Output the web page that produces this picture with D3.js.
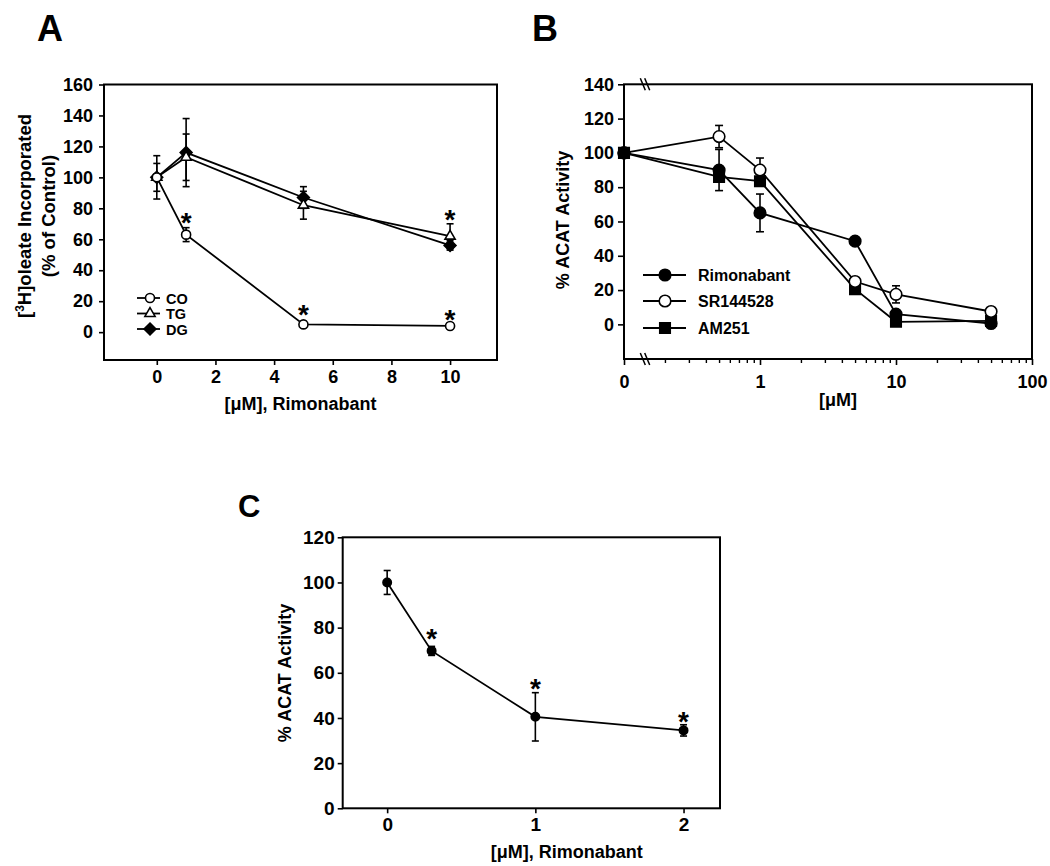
<!DOCTYPE html>
<html><head><meta charset="utf-8">
<script src="https://cdn.jsdelivr.net/npm/d3@7"></script>
<style>
html,body{margin:0;padding:0;background:#fff;}
svg text{font-family:"Liberation Sans",Arial,sans-serif;font-weight:bold;fill:#000;}
</style></head>
<body>
<svg id="chart" width="1050" height="866"></svg>
<script>
// ---------- Panel A data ----------
const aDose = [0, 1, 5, 10];
const aCO = [100, 63, 5, 4];
const aCOErr = [0, 4.5, 2, 0];
const aTG = [100, 113, 82, 62];
const aTGErr = [9, 15, 9, 8];
const aDG = [100, 116, 87, 56];
const aDGErr = [14, 22, 7, 3];
const aYTicks = [0, 20, 40, 60, 80, 100, 120, 140, 160];
const aXTicks = [0, 2, 4, 6, 8, 10];
const aStars = [[1, 75], [5, 16], [10, 77], [10, 12.5]];
const aLegend = ["CO", "TG", "DG"];

// ---------- Panel B data ----------
const bDose = [0, 0.5, 1, 5, 10, 50];
const bRim = [100, 90, 65, 48.5, 6, 0.5];
const bRimErr = [0, 12, 11, 0, 0, 0];
const bSR = [100, 109.5, 90, 25, 17.5, 7.5];
const bSRErr = [0, 6.5, 7, 0, 5, 0];
const bAM = [100, 86, 83.5, 20.5, 1.5, 2];
const bAMErr = [0, 0, 0, 0, 0, 0];
const bYTicks = [0, 20, 40, 60, 80, 100, 120, 140];
const bXMajor = [0.1, 1, 10, 100];
const bXMajorLabels = ["0", "1", "10", "100"];
const bXMinor = [0.2,0.3,0.4,0.5,0.6,0.7,0.8,0.9,2,3,4,5,6,7,8,9,20,30,40,50,60,70,80,90];
const bLegend = ["Rimonabant", "SR144528", "AM251"];

// ---------- Panel C data ----------
const cDose = [0, 0.3, 1, 2];
const cAct = [100, 69.7, 40.5, 34.5];
const cErr = [5.3, 2, 10.7, 2.5];
const cYTicks = [0, 20, 40, 60, 80, 100, 120];
const cXTicks = [0, 1, 2];
const cStars = [[0.3, 78], [1, 56], [2, 41.3]];

const svg = d3.select("#chart");
const LW = 1.8;
const diamond = { draw(ctx, size) { const r = Math.sqrt(size / 2); ctx.moveTo(0, -r); ctx.lineTo(r, 0); ctx.lineTo(0, r); ctx.lineTo(-r, 0); ctx.closePath(); } };

function frame(g, x0, y0, x1, y1) {
  g.append("rect").attr("x", x0).attr("y", y0).attr("width", x1 - x0).attr("height", y1 - y0)
    .attr("fill", "none").attr("stroke", "#000").attr("stroke-width", 2);
}
function styleAxis(sel, fs) {
  sel.select(".domain").remove();
  sel.selectAll("line").attr("stroke", "#000").attr("stroke-width", 1.6);
  sel.selectAll("text").attr("font-size", fs).attr("fill", "#000")
    .style("font-family", '"Liberation Sans",Arial,sans-serif').style("font-weight", "bold");
}
function errBars(g, xs, ys, errs, x, y, cap) {
  xs.forEach((d, i) => {
    if (!errs[i]) return;
    const cx = x(d), y1 = y(ys[i] + errs[i]), y2 = y(ys[i] - errs[i]);
    g.append("line").attr("x1", cx).attr("x2", cx).attr("y1", y1).attr("y2", y2)
      .attr("stroke", "#000").attr("stroke-width", 1.6);
    [y1, y2].forEach(yy => g.append("line").attr("x1", cx - cap).attr("x2", cx + cap)
      .attr("y1", yy).attr("y2", yy).attr("stroke", "#000").attr("stroke-width", 1.6));
  });
}
function seriesLine(g, xs, ys, x, y) {
  g.append("path").datum(xs.map((d, i) => [x(d), y(ys[i])]))
    .attr("d", d3.line()).attr("fill", "none").attr("stroke", "#000").attr("stroke-width", LW);
}
function markers(g, xs, ys, x, y, type, size, fill) {
  g.selectAll(null).data(xs).enter().append("path")
    .attr("transform", (d, i) => `translate(${x(d)},${y(ys[i])})`)
    .attr("d", d3.symbol().type(type).size(size))
    .attr("fill", fill).attr("stroke", "#000").attr("stroke-width", 1.6);
}
function stars(g, list, x, y, fs) {
  list.forEach(s => g.append("text").attr("x", x(s[0])).attr("y", y(s[1]) + fs * 0.58)
    .attr("text-anchor", "middle").attr("font-size", fs).text("*"));
}

// ================= Panel A =================
{
  const g = svg.append("g");
  const L = 104, R = 497, T = 84.5, B = 360;
  const x = d3.scaleLinear().domain([-1.8, 11.6]).range([L, R]);
  const y = d3.scaleLinear().domain([-18, 160]).range([B, T]);
  styleAxis(g.append("g").attr("transform", `translate(${L},0)`)
    .call(d3.axisLeft(y).tickValues(aYTicks).tickSize(5).tickPadding(6).tickSizeOuter(0)), 18);
  styleAxis(g.append("g").attr("transform", `translate(0,${B})`)
    .call(d3.axisBottom(x).tickValues(aXTicks).tickSize(5).tickPadding(5).tickSizeOuter(0)), 18);
  frame(g, L, T, R, B);

  seriesLine(g, aDose, aCO, x, y);
  seriesLine(g, aDose, aTG, x, y);
  seriesLine(g, aDose, aDG, x, y);
  errBars(g, aDose, aCO, aCOErr, x, y, 3.5);
  errBars(g, aDose, aTG, aTGErr, x, y, 3.5);
  errBars(g, aDose, aDG, aDGErr, x, y, 3.5);
  markers(g, aDose, aDG, x, y, diamond, 70, "#000");
  markers(g, aDose, aTG, x, y, d3.symbolTriangle, 45, "#fff");
  markers(g, aDose, aCO, x, y, d3.symbolCircle, 64, "#fff");
  stars(g, aStars, x, y, 28);

  // legend
  const lg = g.append("g");
  const rows = [298, 313.5, 329];
  const types = [d3.symbolCircle, d3.symbolTriangle, diamond];
  const sizes = [64, 45, 70];
  const fills = ["#fff", "#fff", "#000"];
  aLegend.forEach((t, i) => {
    lg.append("line").attr("x1", 137).attr("x2", 160).attr("y1", rows[i]).attr("y2", rows[i])
      .attr("stroke", "#000").attr("stroke-width", LW);
    lg.append("path").attr("transform", `translate(150,${rows[i]})`)
      .attr("d", d3.symbol().type(types[i]).size(sizes[i]))
      .attr("fill", fills[i]).attr("stroke", "#000").attr("stroke-width", 1.6);
    lg.append("text").attr("x", 166).attr("y", rows[i] + 5.5).attr("font-size", 14.5).text(t);
  });

  // axis titles
  const yl = g.append("text").attr("transform", "translate(31,216) rotate(-90)")
    .attr("text-anchor", "middle").attr("font-size", 18.5);
  yl.append("tspan").text("[");
  yl.append("tspan").attr("baseline-shift", "super").attr("font-size", 12).text("3");
  yl.append("tspan").text("H]oleate Incorporated");
  g.append("text").attr("transform", "translate(55,216) rotate(-90)")
    .attr("text-anchor", "middle").attr("font-size", 18.5).text("(% of Control)");
  g.append("text").attr("x", (L + R) / 2).attr("y", 410).attr("text-anchor", "middle")
    .attr("font-size", 18).text("[μM], Rimonabant");
  g.append("text").attr("x", 37).attr("y", 41).attr("font-size", 36).text("A");
}

// ================= Panel B =================
{
  const g = svg.append("g");
  const L = 624, R = 1032, T = 84.3, B = 359;
  const x = d3.scaleLog().domain([0.1, 100]).range([L, R]);
  const xv = d => x(d === 0 ? 0.1 : d);
  const y = d3.scaleLinear().domain([-20.2, 140]).range([B, T]);
  styleAxis(g.append("g").attr("transform", `translate(${L},0)`)
    .call(d3.axisLeft(y).tickValues(bYTicks).tickSize(6).tickPadding(4).tickSizeOuter(0)), 18);
  const xa = g.append("g").attr("transform", `translate(0,${B})`)
    .call(d3.axisBottom(x).tickValues(bXMajor).tickFormat((d, i) => bXMajorLabels[i])
      .tickSize(6).tickPadding(10).tickSizeOuter(0));
  styleAxis(xa, 18);
  g.append("g").attr("transform", `translate(0,${B})`)
    .call(d3.axisBottom(x).tickValues(bXMinor).tickFormat("").tickSize(4).tickSizeOuter(0))
    .call(s => { s.select(".domain").remove(); s.selectAll("line").attr("stroke", "#000").attr("stroke-width", 1.4); });
  frame(g, L, T, R, B);
  // axis break marks
  [T, B].forEach(yy => {
    [-2.2, 2.2].forEach(dx => g.append("line")
      .attr("x1", 645 + dx - 2.5).attr("y1", yy - 6).attr("x2", 645 + dx + 2.5).attr("y2", yy + 6)
      .attr("stroke", "#000").attr("stroke-width", 1.5));
  });

  const bx = bDose.map(d => d === 0 ? 0.1 : d);
  seriesLine(g, bx, bAM, x, y);
  seriesLine(g, bx, bSR, x, y);
  seriesLine(g, bx, bRim, x, y);
  errBars(g, bDose, bAM, bAMErr, xv, y, 4);
  errBars(g, bDose, bSR, bSRErr, xv, y, 4);
  errBars(g, bDose, bRim, bRimErr, xv, y, 4);
  markers(g, bDose, bAM, xv, y, d3.symbolSquare, 110, "#000");
  markers(g, bDose, bSR, xv, y, d3.symbolCircle, 105, "#fff");
  markers(g, bDose, bRim, xv, y, d3.symbolCircle, 105, "#000");

  const lg = g.append("g");
  const rows = [275, 301, 328];
  const types = [d3.symbolCircle, d3.symbolCircle, d3.symbolSquare];
  const sizes = [105, 105, 110];
  const fills = ["#000", "#fff", "#000"];
  bLegend.forEach((t, i) => {
    lg.append("line").attr("x1", 643).attr("x2", 686).attr("y1", rows[i]).attr("y2", rows[i])
      .attr("stroke", "#000").attr("stroke-width", LW);
    lg.append("path").attr("transform", `translate(665,${rows[i]})`)
      .attr("d", d3.symbol().type(types[i]).size(sizes[i]))
      .attr("fill", fills[i]).attr("stroke", "#000").attr("stroke-width", 1.6);
    lg.append("text").attr("x", 698).attr("y", rows[i] + 6).attr("font-size", 16).text(t);
  });

  g.append("text").attr("transform", "translate(569,220) rotate(-90)")
    .attr("text-anchor", "middle").attr("font-size", 18).text("% ACAT Activity");
  g.append("text").attr("x", 838).attr("y", 406).attr("text-anchor", "middle")
    .attr("font-size", 18).text("[μM]");
  g.append("text").attr("x", 532).attr("y", 41).attr("font-size", 36).text("B");
}

// ================= Panel C =================
{
  const g = svg.append("g");
  const L = 342.7, R = 720, T = 537.3, B = 808.3;
  const x = d3.scaleLinear().domain([-0.3, 2.246]).range([L, R]);
  const y = d3.scaleLinear().domain([0, 120]).range([B, T]);
  styleAxis(g.append("g").attr("transform", `translate(${L},0)`)
    .call(d3.axisLeft(y).tickValues(cYTicks).tickSize(5).tickPadding(3).tickSizeOuter(0)), 19);
  styleAxis(g.append("g").attr("transform", `translate(0,${B})`)
    .call(d3.axisBottom(x).tickValues(cXTicks).tickFormat(d3.format("d")).tickSize(5).tickPadding(4).tickSizeOuter(0)), 19);
  frame(g, L, T, R, B);

  seriesLine(g, cDose, cAct, x, y);
  errBars(g, cDose, cAct, cErr, x, y, 3.5);
  markers(g, cDose, cAct, x, y, d3.symbolCircle, 55, "#000");
  stars(g, cStars, x, y, 28);

  g.append("text").attr("transform", "translate(291,673) rotate(-90)")
    .attr("text-anchor", "middle").attr("font-size", 18).text("% ACAT Activity");
  g.append("text").attr("x", 566.7).attr("y", 858).attr("text-anchor", "middle")
    .attr("font-size", 18).text("[μM], Rimonabant");
  g.append("text").attr("x", 238).attr("y", 517).attr("font-size", 31).text("C");
}
</script>
</body></html>
